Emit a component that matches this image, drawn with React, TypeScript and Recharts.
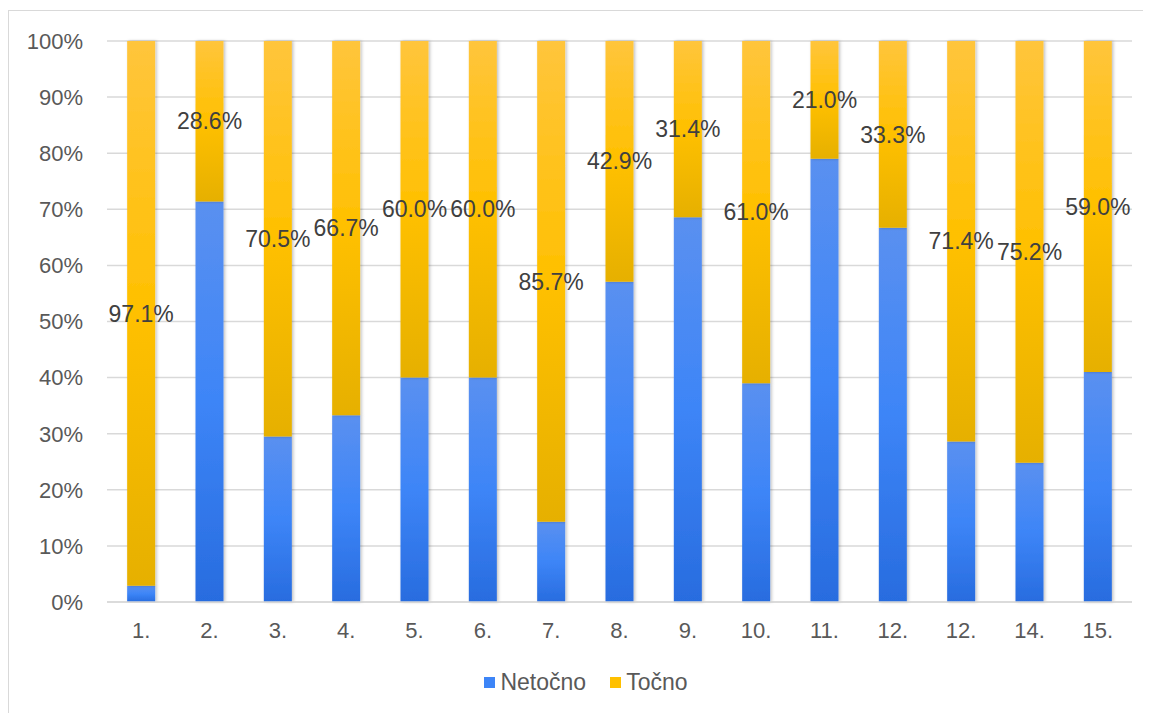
import React from "react";
import {
  Bar,
  BarChart,
  CartesianGrid,
  LabelList,
  XAxis,
  YAxis,
} from "recharts";

const questions = [
  "1.", "2.", "3.", "4.", "5.", "6.", "7.", "8.",
  "9.", "10.", "11.", "12.", "12.", "14.", "15.",
];

const netocno = [2.9, 71.4, 29.5, 33.3, 40.0, 40.0, 14.3, 57.1, 68.6, 39.0, 79.0, 66.7, 28.6, 24.8, 41.0];
const tocno = [97.1, 28.6, 70.5, 66.7, 60.0, 60.0, 85.7, 42.9, 31.4, 61.0, 21.0, 33.3, 71.4, 75.2, 59.0];

const yTicks = [0, 10, 20, 30, 40, 50, 60, 70, 80, 90, 100];

const data = questions.map((q, i) => ({
  id: i,
  name: q,
  Netočno: netocno[i],
  Točno: tocno[i],
}));

const FONT = "'Liberation Sans', Arial, sans-serif";
const TEXT = "#595959";

function LegendItem({ color, label }: { color: string; label: string }) {
  return (
    <span style={{ display: "inline-flex", alignItems: "center", gap: 5 }}>
      <span style={{ width: 11, height: 11, background: color, display: "inline-block" }} />
      <span>{label}</span>
    </span>
  );
}

export default function App() {
  return (
    <div
      style={{
        position: "relative",
        width: 1143,
        height: 703,
        marginTop: 2,
        borderTop: "1px solid #d9d9d9",
        borderLeft: "1px solid #d9d9d9",
        fontFamily: FONT,
        background: "#fff",
      }}
    >
      <BarChart
        width={1142}
        height={700}
        data={data}
        margin={{ top: 30, right: 19, bottom: 59, left: 0 }}
        barCategoryGap="29.5%"
      >
        <defs>
          <linearGradient id="gradBlue" x1="0" x2="0" y1="0" y2="1">
            <stop offset="0%" stopColor="#5a90f0" />
            <stop offset="50%" stopColor="#3d85f7" />
            <stop offset="100%" stopColor="#286cdf" />
          </linearGradient>
          <linearGradient id="gradYellow" x1="0" x2="0" y1="0" y2="1">
            <stop offset="0%" stopColor="#ffc53c" />
            <stop offset="50%" stopColor="#ffc000" />
            <stop offset="100%" stopColor="#e6b000" />
          </linearGradient>
          <filter id="barShadow" x="-30%" y="-5%" width="160%" height="110%">
            <feDropShadow dx="1.5" dy="0" stdDeviation="1.5" floodColor="#000" floodOpacity="0.25" />
          </filter>
        </defs>
        <CartesianGrid stroke="#d9d9d9" strokeWidth={1.5} vertical={false} />
        <XAxis
          dataKey="id"
          tickFormatter={(i) => questions[i]}
          axisLine={{ stroke: "#d9d9d9", strokeWidth: 1.5 }}
          tickLine={false}
          tickMargin={14}
          height={50}
          tick={{ fill: TEXT, fontSize: 22, fontFamily: FONT }}
        />
        <YAxis
          domain={[0, 100]}
          ticks={yTicks}
          tickFormatter={(v) => `${v}%`}
          axisLine={false}
          tickLine={false}
          tickMargin={18}
          width={98}
          interval={0}
          tick={{ fill: TEXT, fontSize: 22, fontFamily: FONT }}
        />
        <Bar
          dataKey="Netočno"
          stackId="a"
          fill="url(#gradBlue)"
          filter="url(#barShadow)"
          isAnimationActive={false}
        />
        <Bar
          dataKey="Točno"
          stackId="a"
          fill="url(#gradYellow)"
          filter="url(#barShadow)"
          isAnimationActive={false}
        >
          <LabelList
            dataKey="Točno"
            position="center"
            formatter={(v: number) => `${v.toFixed(1)}%`}
            style={{ fill: "#404040", fontSize: 23, fontFamily: FONT }}
          />
        </Bar>
      </BarChart>
      <div
        style={{
          position: "absolute",
          top: 658,
          left: 0,
          width: 1142,
          display: "flex",
          justifyContent: "center",
          gap: 24,
          fontSize: 23,
          color: TEXT,
          paddingLeft: 12,
          boxSizing: "border-box",
        }}
      >
        <LegendItem color="#3d85f7" label="Netočno" />
        <LegendItem color="#ffc000" label="Točno" />
      </div>
    </div>
  );
}
